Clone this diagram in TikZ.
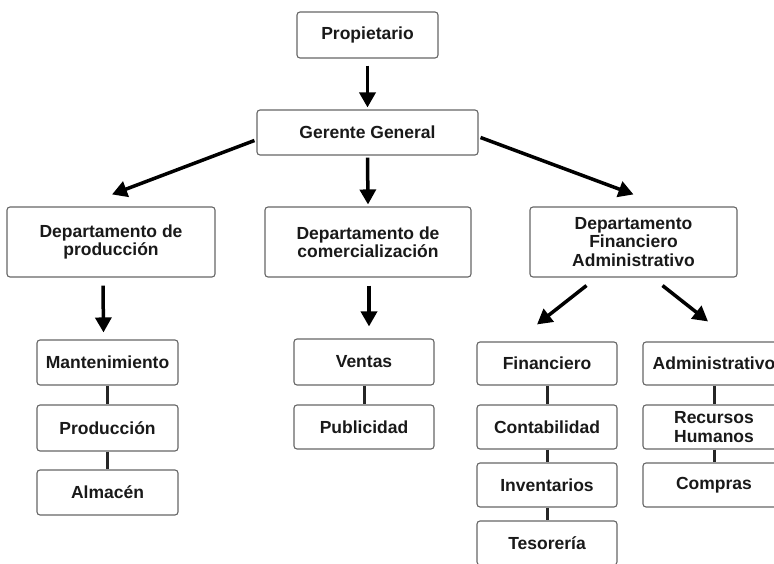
\documentclass[tikz,border=0pt]{standalone}
\usepackage{fontspec}
\setmainfont{Liberation Sans}
\usetikzlibrary{arrows.meta}

\tikzset{
  caja/.style={draw=black!60, line width=1.1pt, rounded corners=3pt, fill=white,
    align=center, inner sep=0pt, text=black!90,
    font=\bfseries\fontsize{17.5}{18.5}\selectfont},
  flecha/.style={line width=3.5pt, -{Triangle[width=16pt,length=15pt]}},
  enlace/.style={line width=3pt, black!85},
}

\begin{document}
\begin{tikzpicture}[x=1pt, y=-1pt]
  \useasboundingbox (0,0) rectangle (774,564);
  \clip (0,0) rectangle (774,564);

  % direccion
  \node[caja, minimum width=141pt, minimum height=46pt] (prop) at (367.5,35) {Propietario};
  \node[caja, minimum width=221pt, minimum height=45pt] (ger) at (367.5,132.5) {Gerente General};

  % departamentos
  \node[caja, minimum width=208pt, minimum height=70pt] (dprod) at (111,242) {Departamento de\\producción};
  \node[caja, minimum width=206pt, minimum height=70pt] (dcom) at (368,242) {Departamento de\\comercialización};
  \node[caja, minimum width=207pt, minimum height=70pt] (dfin) at (633.5,242) {Departamento\\Financiero\\Administrativo};

  % produccion
  \node[caja, minimum width=141pt, minimum height=45pt] (mant) at (107.5,362.5) {Mantenimiento};
  \node[caja, minimum width=141pt, minimum height=46pt] (produc) at (107.5,428) {Producción};
  \node[caja, minimum width=141pt, minimum height=45pt] (alm) at (107.5,492.5) {Almacén};

  % comercializacion
  \node[caja, minimum width=140pt, minimum height=46pt] (vent) at (364,362) {Ventas};
  \node[caja, minimum width=140pt, minimum height=44pt] (pub) at (364,427) {Publicidad};

  % financiero
  \node[caja, minimum width=140pt, minimum height=43pt] (fin) at (547,363.5) {Financiero};
  \node[caja, minimum width=140pt, minimum height=44pt] (cont) at (547,427) {Contabilidad};
  \node[caja, minimum width=140pt, minimum height=44pt] (inv) at (547,485) {Inventarios};
  \node[caja, minimum width=140pt, minimum height=44pt] (tes) at (547,543) {Tesorería};

  % administrativo
  \node[caja, minimum width=142pt, minimum height=43pt] (adm) at (714,363.5) {Administrativo};
  \node[caja, minimum width=142pt, minimum height=44pt] (rh) at (714,427) {Recursos\\Humanos};
  \node[caja, minimum width=142pt, minimum height=44pt] (comp) at (714,485) {Compras};

  % flechas
  \draw[flecha] ([yshift=-7pt]prop.south) -- ([yshift=2pt]ger.north);
  \draw[flecha] ([yshift=-2pt]ger.south) -- ([yshift=2pt]dcom.north);
  \draw[flecha] ([xshift=-2pt,yshift=-8pt]ger.west) -- ([xshift=1pt,yshift=12pt]dprod.north);
  \draw[flecha] ([xshift=2pt,yshift=-5pt]ger.east) -- ([yshift=12pt]dfin.north);
  \draw[flecha] ([xshift=-8pt,yshift=-8pt]dprod.south) -- ([xshift=-4pt,yshift=7pt]mant.north);
  \draw[flecha] ([xshift=1pt,yshift=-8pt]dcom.south) -- ([xshift=5pt,yshift=12pt]vent.north);
  \draw[flecha] ([xshift=-47pt,yshift=-8pt]dfin.south) -- ([xshift=-10pt,yshift=17pt]fin.north);
  \draw[flecha] ([xshift=29pt,yshift=-8pt]dfin.south) -- ([xshift=-6pt,yshift=20pt]adm.north);

  % enlaces
  \draw[enlace] (mant) -- (produc);
  \draw[enlace] (produc) -- (alm);
  \draw[enlace] (vent) -- (pub);
  \draw[enlace] (fin) -- (cont);
  \draw[enlace] (cont) -- (inv);
  \draw[enlace] (inv) -- (tes);
  \draw[enlace] (adm) -- (rh);
  \draw[enlace] (rh) -- (comp);
\end{tikzpicture}
\end{document}
